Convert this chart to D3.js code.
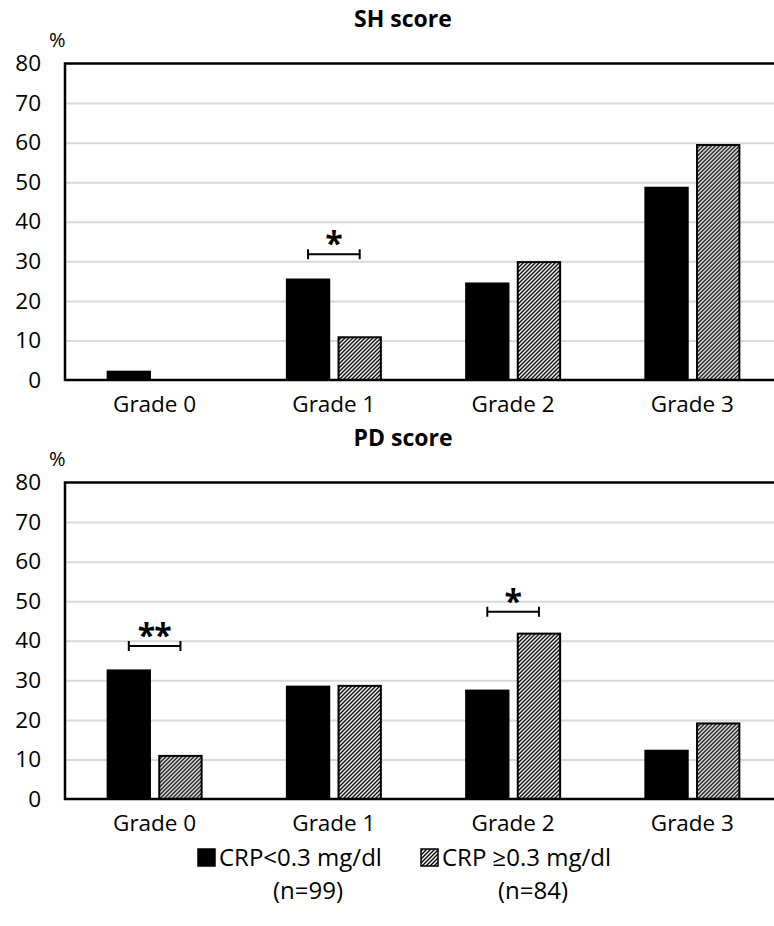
<!DOCTYPE html>
<html>
<head>
<meta charset="utf-8">
<script src="https://cdn.jsdelivr.net/npm/d3@7"></script>
<style>
  body { margin: 0; background: #fff; }
  svg { display: block; }
  text { font-family: "Open Sans", sans-serif; fill: #000; }
</style>
</head>
<body>
<div id="chart"></div>
<script>
// data
const grades = ["Grade 0", "Grade 1", "Grade 2", "Grade 3"];
const groups = ["low", "high"];
const groupLabels = ["CRP<0.3 mg/dl", "CRP \u22650.3 mg/dl"];
const groupCounts = ["(n=99)", "(n=84)"];
const yTicks = [0, 10, 20, 30, 40, 50, 60, 70, 80];

const shLow  = [2.1, 25.4, 24.4, 48.6];
const shHigh = [0, 10.8, 29.8, 59.4];
const pdLow  = [32.5, 28.4, 27.4, 12.2];
const pdHigh = [10.9, 28.6, 41.8, 19.1];

const shSig = [{grade: "Grade 1", level: 31.8, label: "*"}];
const pdSig = [{grade: "Grade 0", level: 38.7, label: "**"},
               {grade: "Grade 2", level: 47.3, label: "*"}];

const W = 774, H = 926;
const svg = d3.select("#chart").append("svg").attr("width", W).attr("height", H);

// hatch pattern
svg.append("defs").append("pattern")
    .attr("id", "hatch")
    .attr("patternUnits", "userSpaceOnUse")
    .attr("width", 4).attr("height", 4)
  .call(p => p.append("rect").attr("width", 4).attr("height", 4).attr("fill", "#fff"))
  .append("path")
    .attr("d", "M-1,1 l2,-2 M0,4 l4,-4 M3,5 l2,-2")
    .attr("stroke", "#000")
    .attr("stroke-width", 1.4);

const fill = d3.scaleOrdinal().domain(groups).range(["#000", "url(#hatch)"]);

const x0 = d3.scaleBand().domain(grades).range([65, 782]);
const x1 = d3.scaleBand().domain(groups).range([0, 94]).paddingInner(0.18);
const groupOffset = x0.bandwidth() / 2 - 47;

function drawPanel(top, title, low, high, sig) {
    const g = svg.append("g").attr("transform", "translate(0," + top + ")");
    const y = d3.scaleLinear().domain([0, 80]).range([380, 63.5]);

    // title and unit
    g.append("text")
        .attr("x", 403).attr("y", 27)
        .attr("text-anchor", "middle")
        .style("font-size", "23px").style("font-weight", "bold")
        .text(title);
    g.append("text")
        .attr("x", 49).attr("y", 47)
        .style("font-size", "20px")
        .text("%");

    // gridlines
    g.append("g")
        .attr("transform", "translate(65,0)")
        .call(d3.axisLeft(y).tickValues(yTicks.slice(1, -1)).tickSize(-720).tickFormat(""))
        .call(a => a.select(".domain").remove())
        .call(a => a.selectAll("line").attr("stroke", "#d9d9d9").attr("stroke-width", 2));

    // y tick labels
    g.append("g")
        .attr("transform", "translate(65,0)")
        .call(d3.axisLeft(y).tickValues(yTicks).tickSize(0).tickPadding(24))
        .call(a => a.select(".domain").remove())
        .call(a => a.selectAll("text").style("font-size", "22.5px").attr("font-family", null));

    // bars
    const rows = grades.map((k, i) => ({grade: k, low: low[i], high: high[i]}));
    g.append("g").selectAll("g")
        .data(rows)
        .join("g")
        .attr("transform", d => "translate(" + (x0(d.grade) + groupOffset) + ",0)")
        .selectAll("rect")
        .data(d => groups.map(k => ({key: k, value: d[k]})).filter(d => d.value > 0))
        .join("rect")
        .attr("x", d => x1(d.key))
        .attr("width", x1.bandwidth())
        .attr("y", d => y(d.value))
        .attr("height", d => y(0) - y(d.value))
        .attr("fill", d => fill(d.key))
        .attr("stroke", "#000")
        .attr("stroke-width", 2);

    // frame: top, left, bottom
    g.append("path")
        .attr("d", "M" + 790 + "," + y(80) + "H65V" + y(0) + "H790")
        .attr("fill", "none")
        .attr("stroke", "#000")
        .attr("stroke-width", 2.5);

    // x labels
    g.append("g")
        .attr("transform", "translate(0," + y(0) + ")")
        .call(d3.axisBottom(x0).tickSize(0).tickPadding(16))
        .call(a => a.select(".domain").remove())
        .call(a => a.selectAll("text").style("font-size", "22.5px").attr("font-family", null));

    // significance brackets
    const s = g.append("g").selectAll("g").data(sig).join("g");
    const bx = d => x0(d.grade) + groupOffset;
    s.append("path")
        .attr("d", d => {
            const a = bx(d) + x1("low") + x1.bandwidth() / 2,
                  b = bx(d) + x1("high") + x1.bandwidth() / 2,
                  yy = y(d.level);
            return "M" + a + "," + (yy - 5) + "V" + (yy + 5) + "M" + a + "," + yy + "H" + b +
                   "M" + b + "," + (yy - 5) + "V" + (yy + 5);
        })
        .attr("fill", "none")
        .attr("stroke", "#000")
        .attr("stroke-width", 2);
    s.append("text")
        .attr("x", d => x0(d.grade) + x0.bandwidth() / 2 - 0.5)
        .attr("y", d => y(d.level) + 1)
        .attr("text-anchor", "middle")
        .style("font-size", "32px").style("font-weight", "bold")
        .style("letter-spacing", "-1px")
        .text(d => d.label);
}

drawPanel(0, "SH score", shLow, shHigh, shSig);
drawPanel(419, "PD score", pdLow, pdHigh, pdSig);

// legend
const legend = svg.append("g");
const legendX = [197, 420];
const lg = legend.selectAll("g").data(groups).join("g")
    .attr("transform", (d, i) => "translate(" + legendX[i] + ",0)");
lg.append("rect")
    .attr("x", 1).attr("y", 849)
    .attr("width", 17).attr("height", 17)
    .attr("fill", d => fill(d))
    .attr("stroke", "#000").attr("stroke-width", 1.5);
lg.append("text")
    .attr("x", 22).attr("y", 866)
    .style("font-size", "24px")
    .text((d, i) => groupLabels[i]);
lg.append("text")
    .attr("x", (d, i) => i === 0 ? 111 : 113).attr("y", 899)
    .attr("text-anchor", "middle")
    .style("font-size", "24px")
    .text((d, i) => groupCounts[i]);
</script>
</body>
</html>
